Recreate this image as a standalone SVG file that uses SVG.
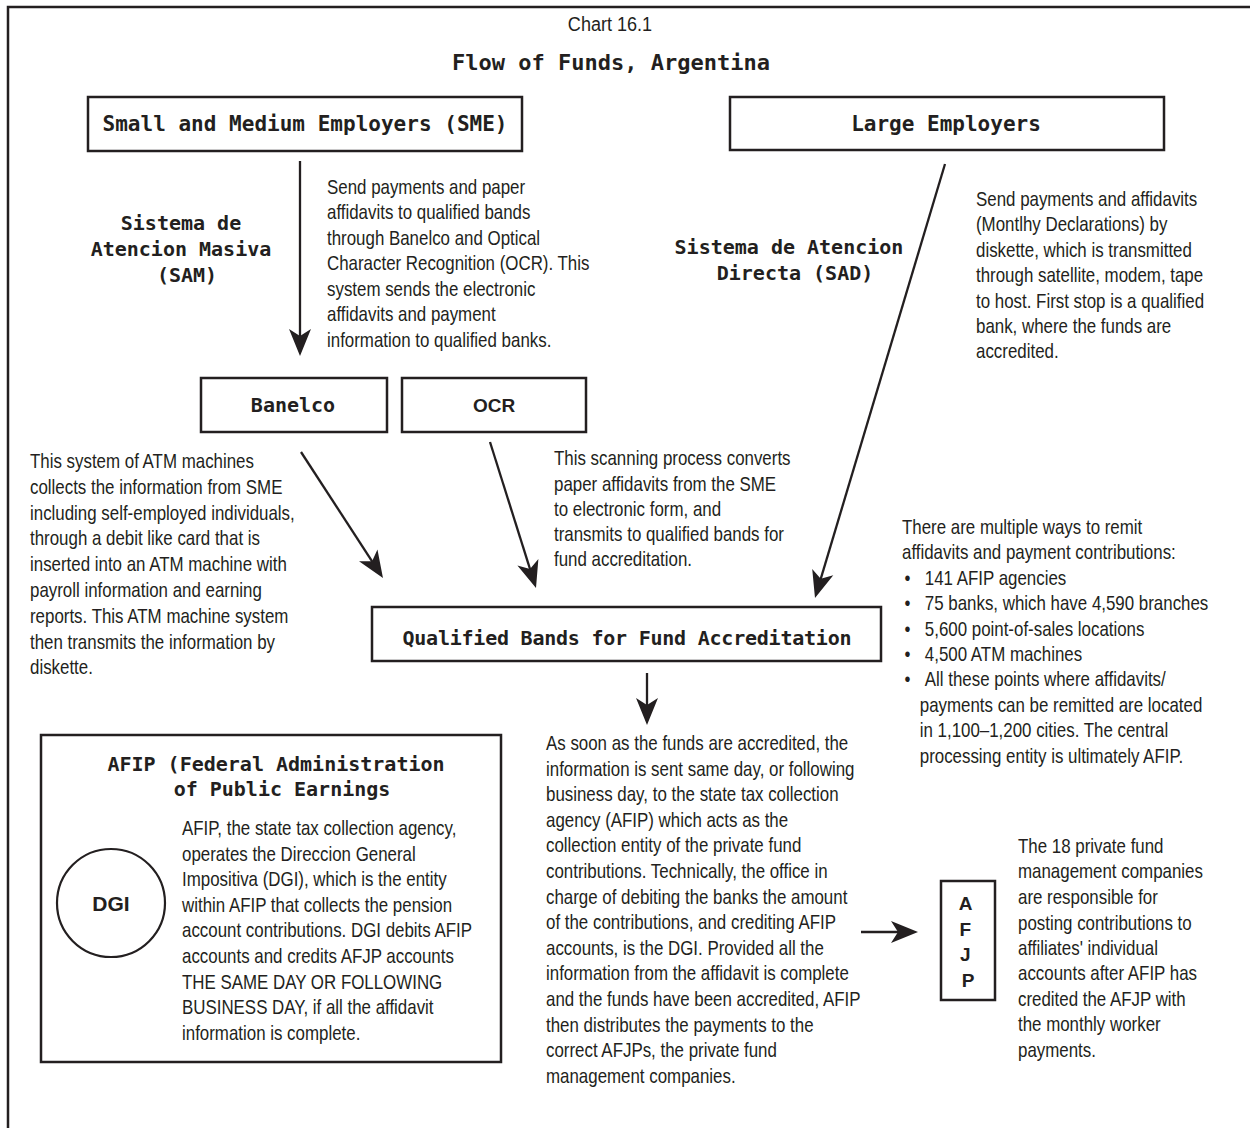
<svg xmlns="http://www.w3.org/2000/svg" width="1250" height="1128" viewBox="0 0 1250 1128">
  <style>
    .frame { fill: none; stroke: #231f20; stroke-width: 2.5; }
    .box { fill: #fff; stroke: #231f20; stroke-width: 2.5; }
    .lbl { font-family: "DejaVu Sans Mono", "Liberation Mono", monospace; font-weight: bold; fill: #231f20; }
    .sb { font-family: "Liberation Sans", Arial, sans-serif; font-weight: bold; fill: #231f20; }
    .body { font-family: "Liberation Sans", Arial, sans-serif; font-size: 20px; fill: #231f20; }
    .conn { fill: none; stroke: #231f20; stroke-width: 2.3; marker-end: url(#ah); }
  </style>
  <defs>
    <!-- dart-shaped arrowhead; tip sits 8px beyond the path end -->
    <marker id="ah" markerUnits="userSpaceOnUse" orient="auto" refX="-8" refY="0" markerWidth="40" markerHeight="30" viewBox="-30 -15 40 30" overflow="visible">
      <path d="M0,0 L-27,-11 L-20,0 L-27,11 Z" fill="#231f20"/>
    </marker>
  </defs>

  <rect width="1250" height="1128" fill="#fff"/>
  <!-- page frame: open on the right and bottom -->
  <path class="frame" d="M8,1128 V7 H1250"/>

  <!-- heading -->
  <g id="title">
    <text class="body" style="font-size:21px" text-anchor="middle" transform="translate(610,0) scale(0.86,1)"><tspan x="0" y="31">Chart 16.1</tspan></text>
    <text class="lbl" style="font-size:22px" x="611" y="70" text-anchor="middle">Flow of Funds, Argentina</text>
  </g>

  <!-- connectors -->
  <g id="connectors">
    <path class="conn" d="M300,161 L300,348"/>
    <path class="conn" d="M945,164 L817.3,590.3"/>
    <path class="conn" d="M301,452 L378.6,571.3"/>
    <path class="conn" d="M490,442 L533.6,580.4"/>
    <path class="conn" d="M647,673 L647,717"/>
    <path class="conn" d="M861,932 L910,932"/>
  </g>

  <g id="node-sme">
    <rect class="box" x="88" y="97" width="434" height="54"/>
    <text class="lbl" style="font-size:21px" x="305" y="131" text-anchor="middle" textLength="405" lengthAdjust="spacing">Small and Medium Employers (SME)</text>
  </g>

  <g id="node-large">
    <rect class="box" x="730" y="97" width="434" height="53"/>
    <text class="lbl" style="font-size:21px" x="946" y="131" text-anchor="middle">Large Employers</text>
  </g>

  <g id="label-sam">
    <text class="lbl" style="font-size:20px" text-anchor="middle">
      <tspan x="187" y="230">Sistema de</tspan>
      <tspan x="187" y="256">Atencion Masiva</tspan>
      <tspan x="187" y="282">(SAM)</tspan>
    </text>
  </g>

  <g id="label-sad">
    <text class="lbl" style="font-size:20px" text-anchor="middle">
      <tspan x="795" y="254">Sistema de Atencion</tspan>
      <tspan x="795" y="280">Directa (SAD)</tspan>
    </text>
  </g>

  <g id="note-sam">
    <text class="body" transform="translate(327,0) scale(0.845,1)">
      <tspan x="0" y="194">Send payments and paper</tspan>
      <tspan x="0" y="219.5">affidavits to qualified bands</tspan>
      <tspan x="0" y="245">through Banelco and Optical</tspan>
      <tspan x="0" y="270.5">Character Recognition (OCR). This</tspan>
      <tspan x="0" y="296">system sends the electronic</tspan>
      <tspan x="0" y="321.5">affidavits and payment</tspan>
      <tspan x="0" y="347">information to qualified banks.</tspan>
    </text>
  </g>

  <g id="note-sad">
    <text class="body" transform="translate(976,0) scale(0.845,1)">
      <tspan x="0" y="206">Send payments and affidavits</tspan>
      <tspan x="0" y="231.4">(Montlhy Declarations) by</tspan>
      <tspan x="0" y="256.8">diskette, which is transmitted</tspan>
      <tspan x="0" y="282.2">through satellite, modem, tape</tspan>
      <tspan x="0" y="307.6">to host. First stop is a qualified</tspan>
      <tspan x="0" y="333">bank, where the funds are</tspan>
      <tspan x="0" y="358.4">accredited.</tspan>
    </text>
  </g>

  <g id="node-banelco">
    <rect class="box" x="201" y="378" width="186" height="54"/>
    <text class="lbl" style="font-size:20px" x="293" y="412" text-anchor="middle">Banelco</text>
  </g>

  <g id="node-ocr">
    <rect class="box" x="402" y="378" width="184" height="54"/>
    <text class="sb" style="font-size:19px" x="494" y="412" text-anchor="middle">OCR</text>
  </g>

  <g id="note-banelco">
    <text class="body" transform="translate(30,0) scale(0.845,1)">
      <tspan x="0" y="468">This system of ATM machines</tspan>
      <tspan x="0" y="493.8">collects the information from SME</tspan>
      <tspan x="0" y="519.6">including self-employed individuals,</tspan>
      <tspan x="0" y="545.4">through a debit like card that is</tspan>
      <tspan x="0" y="571.2">inserted into an ATM machine with</tspan>
      <tspan x="0" y="597">payroll information and earning</tspan>
      <tspan x="0" y="622.8">reports. This ATM  machine system</tspan>
      <tspan x="0" y="648.6">then transmits the information by</tspan>
      <tspan x="0" y="674.4">diskette.</tspan>
    </text>
  </g>

  <g id="note-ocr">
    <text class="body" transform="translate(554,0) scale(0.845,1)">
      <tspan x="0" y="465.5">This scanning process converts</tspan>
      <tspan x="0" y="490.7">paper affidavits from the SME</tspan>
      <tspan x="0" y="515.9">to electronic form, and</tspan>
      <tspan x="0" y="541.1">transmits to qualified bands for</tspan>
      <tspan x="0" y="566.3">fund accreditation.</tspan>
    </text>
  </g>

  <g id="note-channels">
    <text class="body" transform="translate(902,0) scale(0.845,1)">
      <tspan x="0" y="534">There are multiple ways to remit</tspan>
      <tspan x="0" y="559.4">affidavits and payment contributions:</tspan>
      <tspan x="3" y="584.8">•</tspan><tspan x="27" y="584.8">141 AFIP agencies</tspan>
      <tspan x="3" y="610.2">•</tspan><tspan x="27" y="610.2">75 banks, which have 4,590 branches</tspan>
      <tspan x="3" y="635.6">•</tspan><tspan x="27" y="635.6">5,600 point-of-sales locations</tspan>
      <tspan x="3" y="661">•</tspan><tspan x="27" y="661">4,500 ATM machines</tspan>
      <tspan x="3" y="686.4">•</tspan><tspan x="27" y="686.4">All these points where affidavits/</tspan>
      <tspan x="21" y="711.8">payments can be remitted are located</tspan>
      <tspan x="21" y="737.2">in 1,100–1,200 cities. The central</tspan>
      <tspan x="21" y="762.6">processing entity is ultimately AFIP.</tspan>
    </text>
  </g>

  <g id="node-qualified">
    <rect class="box" x="372" y="607" width="509" height="54"/>
    <text class="lbl" style="font-size:20px" x="627" y="645" text-anchor="middle" textLength="449" lengthAdjust="spacing">Qualified Bands for Fund Accreditation</text>
  </g>

  <g id="note-accreditation">
    <text class="body" transform="translate(546,0) scale(0.845,1)">
      <tspan x="0" y="750">As soon as the funds are accredited, the</tspan>
      <tspan x="0" y="775.6">information is sent same day, or following</tspan>
      <tspan x="0" y="801.2">business day, to the state tax collection</tspan>
      <tspan x="0" y="826.8">agency (AFIP) which acts as the</tspan>
      <tspan x="0" y="852.4">collection entity of the private fund</tspan>
      <tspan x="0" y="878">contributions. Technically, the office in</tspan>
      <tspan x="0" y="903.6">charge of debiting the banks the amount</tspan>
      <tspan x="0" y="929.2">of the contributions, and crediting AFIP</tspan>
      <tspan x="0" y="954.8">accounts, is the DGI. Provided all the</tspan>
      <tspan x="0" y="980.4">information from the affidavit is complete</tspan>
      <tspan x="0" y="1006">and the funds have been accredited, AFIP</tspan>
      <tspan x="0" y="1031.6">then distributes the payments to the</tspan>
      <tspan x="0" y="1057.2">correct AFJPs, the private fund</tspan>
      <tspan x="0" y="1082.8">management companies.</tspan>
    </text>
  </g>

  <g id="node-afip">
    <rect class="box" x="41" y="735" width="460" height="327"/>
    <text class="lbl" style="font-size:20px" text-anchor="middle">
      <tspan x="282" y="771">AFIP (Federal Administration</tspan>
      <tspan x="282" y="796">of Public Earnings</tspan>
    </text>
    <g id="node-dgi">
      <circle cx="111" cy="903" r="54" fill="#fff" stroke="#231f20" stroke-width="2.2"/>
      <text class="sb" style="font-size:21px" x="111" y="910.5" text-anchor="middle">DGI</text>
    </g>
    <text class="body" transform="translate(182,0) scale(0.845,1)">
      <tspan x="0" y="835">AFIP, the state tax collection agency,</tspan>
      <tspan x="0" y="860.6">operates the Direccion General</tspan>
      <tspan x="0" y="886.2">Impositiva (DGI), which is the entity</tspan>
      <tspan x="0" y="911.8">within AFIP that collects the pension</tspan>
      <tspan x="0" y="937.4">account contributions. DGI debits AFIP</tspan>
      <tspan x="0" y="963">accounts and credits AFJP accounts</tspan>
      <tspan x="0" y="988.6">THE SAME DAY OR FOLLOWING</tspan>
      <tspan x="0" y="1014.2">BUSINESS DAY, if all the affidavit</tspan>
      <tspan x="0" y="1039.8">information is complete.</tspan>
    </text>
  </g>

  <g id="node-afjp">
    <rect class="box" x="941" y="881" width="54" height="119"/>
    <text class="sb" style="font-size:19px" text-anchor="middle">
      <tspan x="968" y="910">A</tspan>
      <tspan x="968" y="935.5">F</tspan>
      <tspan x="968" y="961">J</tspan>
      <tspan x="968" y="986.5">P</tspan>
    </text>
  </g>

  <g id="note-afjp">
    <text class="body" transform="translate(1018,0) scale(0.845,1)">
      <tspan x="0" y="853">The 18 private fund</tspan>
      <tspan x="0" y="878.5">management companies</tspan>
      <tspan x="0" y="904">are responsible for</tspan>
      <tspan x="0" y="929.5">posting contributions to</tspan>
      <tspan x="0" y="955">affiliates' individual</tspan>
      <tspan x="0" y="980.5">accounts after AFIP has</tspan>
      <tspan x="0" y="1006">credited the AFJP with</tspan>
      <tspan x="0" y="1031.5">the monthly worker</tspan>
      <tspan x="0" y="1057">payments.</tspan>
    </text>
  </g>
</svg>
